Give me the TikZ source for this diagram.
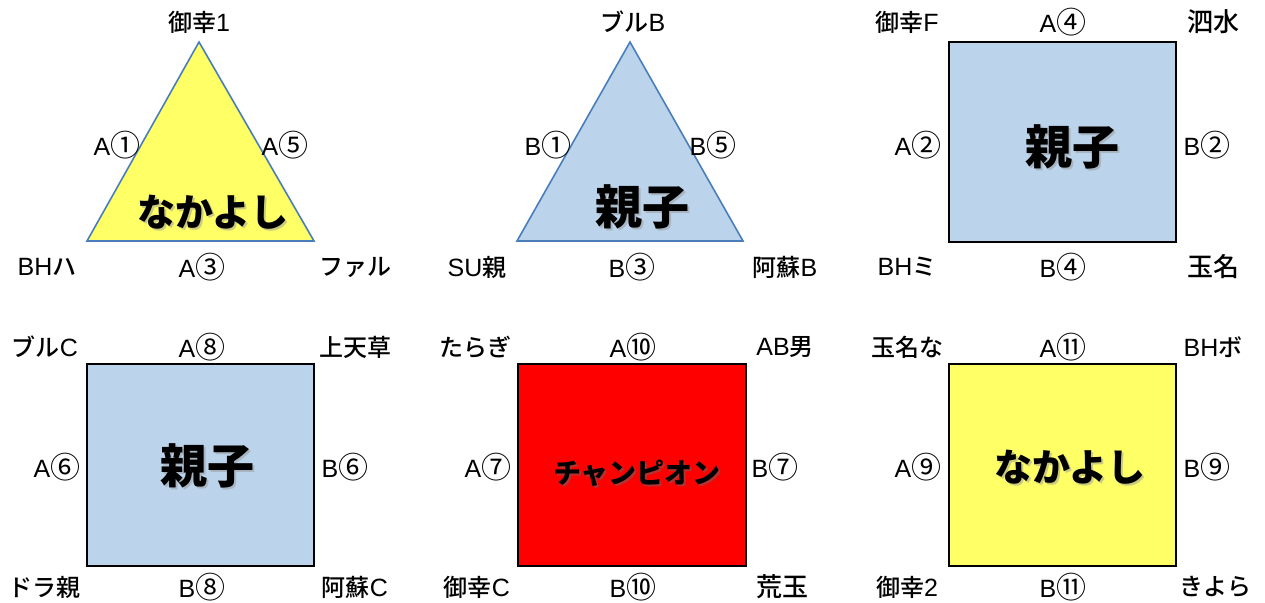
\documentclass[tikz,border=0pt]{standalone}
\usepackage{fontspec}
\setmainfont{Noto Sans CJK JP}
\newfontfamily\jpm{Noto Sans CJK JP Medium}
\newfontfamily\latf{Liberation Sans}
\definecolor{triyel}{RGB}{255,255,102}
\definecolor{liblue}{RGB}{187,212,236}
\definecolor{triedge}{RGB}{74,126,187}
\definecolor{champred}{RGB}{255,0,0}
\newcommand{\cn}[1]{{\rmfamily\mdseries\fontsize{30}{24}\selectfont\raisebox{-0.5pt}{#1}}}
\newcommand{\la}[1]{{\latf\fontsize{25}{24}\selectfont #1}}
\tikzset{
  lbl/.style={font=\jpm\fontsize{24}{24}\selectfont, inner sep=0pt, anchor=center},
  lblk/.style={font=\jpm\fontsize{26}{26}\selectfont, inner sep=0pt, anchor=center},
  big/.style={font=\fontsize{38}{38}\selectfont\bfseries, inner sep=0pt},
  bigk/.style={font=\fontsize{47}{47}\selectfont\bfseries, inner sep=0pt},
  champ/.style={font=\fontsize{28}{28}\selectfont\bfseries, inner sep=0pt},
  shad/.style={text=black!40, opacity=0.5},
  tri/.style={draw=triedge, line width=1.6pt, line join=miter},
  sq/.style={draw=black, line width=2.4pt},
}
\begin{document}
\begin{tikzpicture}[x=1pt,y=-1pt]
\useasboundingbox (0,0) rectangle (1265,602);
% Panel 1: triangle yellow
\coordinate (t1a) at (199,42);
\coordinate (t1l) at (87,241);
\coordinate (t1r) at (314,241);
\fill[triyel] (t1a) -- (t1l) -- (t1r) -- cycle;
\draw[tri] (t1a) -- (t1l) -- (t1r) -- cycle;
\node[big, shad] at (215,214) {なかよし};
\node[big] (p1t) at (213,212) {なかよし};
\node[lbl] (p1a) at (199,22) {御幸\la{1}};
\node[lbl] (p1b) at (117,145) {\la{A}\cn{①}};
\node[lbl] (p1c) at (285,145) {\la{A}\cn{⑤}};
\node[lbl] (p1d) at (47,267) {\la{BH}ハ};
\node[lbl] (p1e) at (202,267) {\la{A}\cn{③}};
\node[lbl] (p1f) at (355,267) {ファル};
% Panel 2: triangle blue
\coordinate (t2a) at (630,42);
\coordinate (t2l) at (517,241);
\coordinate (t2r) at (743,241);
\fill[liblue] (t2a) -- (t2l) -- (t2r) -- cycle;
\draw[tri] (t2a) -- (t2l) -- (t2r) -- cycle;
\node[bigk, shad] at (644,209) {親子};
\node[bigk] (p2t) at (642,207) {親子};
\node[lbl] (p2a) at (633,22) {ブル\la{B}};
\node[lbl] (p2b) at (548,145) {\la{B}\cn{①}};
\node[lbl] (p2c) at (713,145) {\la{B}\cn{⑤}};
\node[lbl] (p2d) at (477,267) {\la{SU}親};
\node[lbl] (p2e) at (632,267) {\la{B}\cn{③}};
\node[lbl] (p2f) at (785,267) {阿蘇\la{B}};
% Panel 3: square blue
\draw[sq, fill=liblue] (949,42) rectangle (1176,242);
\node[bigk, shad] at (1074,149) {親子};
\node[bigk] (p3t) at (1072,147) {親子};
\node[lbl] (p3a) at (907,22) {御幸\la{F}};
\node[lbl] (p3b) at (1063,22) {\la{A}\cn{④}};
\node[lblk] (p3c) at (1213,22) {泗水};
\node[lbl] (p3d) at (918,145) {\la{A}\cn{②}};
\node[lbl] (p3e) at (1207,145) {\la{B}\cn{②}};
\node[lbl] (p3f) at (907,267) {\la{BH}ミ};
\node[lbl] (p3g) at (1063,267) {\la{B}\cn{④}};
\node[lblk] (p3h) at (1213,267) {玉名};
% Panel 4: square blue
\draw[sq, fill=liblue] (87,364) rectangle (314,566);
\node[bigk, shad] at (209,468) {親子};
\node[bigk] (p4t) at (207,466) {親子};
\node[lbl] (p4a) at (45,347) {ブル\la{C}};
\node[lbl] (p4b) at (202,347) {\la{A}\cn{⑧}};
\node[lbl] (p4c) at (355,347) {上天草};
\node[lbl] (p4d) at (57,467) {\la{A}\cn{⑥}};
\node[lbl] (p4e) at (345,467) {\la{B}\cn{⑥}};
\node[lbl] (p4f) at (45,587) {ドラ親};
\node[lbl] (p4g) at (202,587) {\la{B}\cn{⑧}};
\node[lbl] (p4h) at (355,587) {阿蘇\la{C}};
% Panel 5: square red
\draw[sq, fill=champred] (518,364) rectangle (746,566);
\node[champ, text=black!60, opacity=0.5] at (639,475) {チャンピオン};
\node[champ] (p5t) at (637,473) {チャンピオン};
\node[lbl] (p5a) at (475,347) {たらぎ};
\node[lbl] (p5b) at (633,347) {\la{A}\cn{⑩}};
\node[lbl] (p5c) at (785,347) {\la{AB}男};
\node[lbl] (p5d) at (488,467) {\la{A}\cn{⑦}};
\node[lbl] (p5e) at (775,467) {\la{B}\cn{⑦}};
\node[lbl] (p5f) at (477,587) {御幸\la{C}};
\node[lbl] (p5g) at (633,587) {\la{B}\cn{⑩}};
\node[lblk] (p5h) at (782,587) {荒玉};
% Panel 6: square yellow
\draw[sq, fill=triyel] (949,364) rectangle (1176,566);
\node[big, shad] at (1072,469) {なかよし};
\node[big] (p6t) at (1070,467) {なかよし};
\node[lbl] (p6a) at (907,347) {玉名な};
\node[lbl] (p6b) at (1063,347) {\la{A}\cn{⑪}};
\node[lbl] (p6c) at (1213,347) {\la{BH}ボ};
\node[lbl] (p6d) at (918,467) {\la{A}\cn{⑨}};
\node[lbl] (p6e) at (1207,467) {\la{B}\cn{⑨}};
\node[lbl] (p6f) at (907,587) {御幸\la{2}};
\node[lbl] (p6g) at (1063,587) {\la{B}\cn{⑪}};
\node[lbl] (p6h) at (1215,587) {きよら};
\end{tikzpicture}
\end{document}
